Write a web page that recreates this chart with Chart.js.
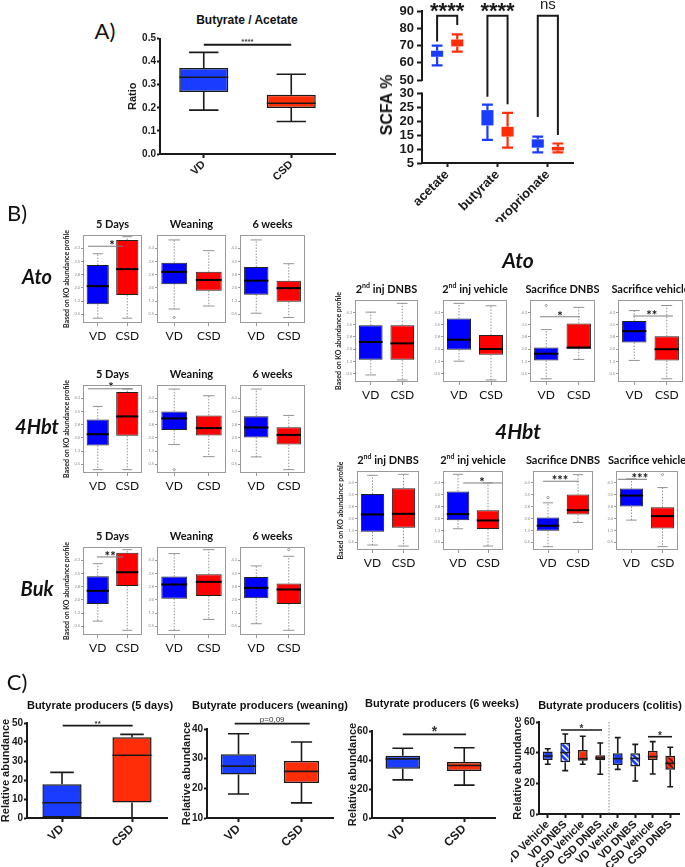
<!DOCTYPE html>
<html>
<head>
<meta charset="utf-8">
<script src="https://cdn.jsdelivr.net/npm/chart.js@4.4.1/dist/chart.umd.min.js"></script>
<style>
  body { margin: 0; background: #fff; }
  #page { position: relative; width: 685px; height: 867px; overflow: hidden; }
  canvas { position: absolute; }
  .lbl { position: absolute; transform: translate(-50%, -50%); white-space: nowrap; color: #111; line-height: 1; }
</style>
</head>
<body>
<div id="page"></div>
<script>
// every box is [min, q1, median, q3, max, (outliers)]
const groups = ['VD', 'CSD'];

// A) Butyrate / Acetate
const ratioVD = [0.19, 0.268, 0.332, 0.372, 0.44];
const ratioCSD = [0.141, 0.199, 0.22, 0.256, 0.345];
const ratioTicks = [0, 0.1, 0.2, 0.3, 0.4, 0.5];

// A) SCFA %
const acids = ['acetate', 'butyrate', 'proprionate'];
const scfaVD = [[58.5, 63.5, 65, 67, 70], [13.3, 18.5, 21, 24, 26], [8.8, 10.5, 11.5, 13.5, 14.5]];
const scfaCSD = [[66.5, 69.5, 71.5, 73.5, 76.5], [10.5, 14.5, 16, 18, 23], [8.8, 9.5, 10, 10.8, 12]];
const scfaTopTicks = [50, 60, 70, 80, 90];
const scfaLowTicks = [5, 10, 15, 20, 25, 30];
const scfaSig = ['****', '****', 'ns'];
const scfaBracketTop = 87.3;
const scfaLegVD = [72.4, 28.8, 21.5];
const scfaLegCSD = [81.9, 26.1, 15.1];

// B) KO abundance profiles (arbitrary units, 0-100 of plot height)
const earlyTimes = ['5 Days', 'Weaning', '6 weeks'];
const lateTimes = ['2nd inj DNBS', '2nd inj vehicle', 'Sacrifice DNBS', 'Sacrifice vehicle'];
const koTicks = [10, 25, 40, 55, 70, 85];

const atoEarlyVD = [[5.4, 21.3, 41.9, 65.9, 78.7], [15.9, 44.1, 58.1, 68.5, 94.4, [6.3]], [11.1, 32.2, 48.1, 63.7, 94.4]];
const atoEarlyCSD = [[5.4, 31.8, 61.2, 94.2, 98.1], [19.3, 36.7, 48.9, 58.1, 82.2], [6.3, 24.1, 39.6, 48.1, 67.4]];
const hbtEarlyVD = [[3.8, 31.2, 44.1, 60.8, 75.7], [32.3, 49.0, 62.0, 70.0, 95.4, [3.8]], [18.3, 40.3, 51.7, 64.6, 95.4]];
const hbtEarlyCSD = [[3.8, 42.2, 64.3, 92.0, 95.4], [18.6, 42.6, 51.0, 65.4, 87.8], [3.8, 32.3, 43.3, 52.1, 65.4]];
const bukEarlyVD = [[15.8, 35.1, 50.2, 66.8, 81.1], [5.3, 41.1, 57.4, 66.4, 92.5], [12.8, 41.9, 53.6, 66.0, 78.5]];
const bukEarlyCSD = [[5.3, 55.8, 71.3, 93.6, 97.0], [17.7, 44.2, 60.4, 69.1, 97.0], [5.3, 35.1, 51.7, 58.5, 89.4, [97]]];

const atoLateVD = [[8.6, 27.0, 48.8, 69.3, 85.2], [25.4, 39.3, 51.6, 77.5, 95.9], [3.9, 26.3, 34.5, 42.0, 63.9, [93.3]], [26.3, 48.2, 62.0, 74.5, 87.1]];
const atoLateCSD = [[2.5, 27.0, 47.1, 69.3, 95.9], [2.5, 33.2, 40.2, 57.4, 93.0], [27.5, 40.4, 42.0, 71.4, 91.0], [3.9, 26.3, 40.0, 55.7, 93.3]];
const hbtLateVD = [[6.3, 23.1, 45.0, 71.0, 94.5], [26.9, 37.8, 45.4, 74.0, 95.8], [4.2, 24.4, 30.7, 41.2, 59.7, [66.4]], [37.8, 55.0, 68.9, 77.7, 90]];
const hbtLateCSD = [[5.0, 28.2, 45.8, 78.2, 95.8], [5.0, 26.5, 37.4, 50.4, 84.9], [34.9, 45.0, 50.4, 70.2, 95.4], [4.2, 27.3, 42.9, 54.2, 79.0, [95.4]]];

// significance: [from, to, height, text, text position]
const atoEarlySig = [[-0.33, 0.86, 87.2, '*', 0.48], null, null];
const hbtEarlySig = [[-0.33, 1.19, 95.8, '*', 0.45], null, null];
const bukEarlySig = [[-0.03, 0.86, 88.7, '**', 0.42], null, null];
const atoLateSig = [null, null, [-0.19, 1.04, 79.6, '*', 0.42], [-0.04, 1.19, 80.4, '**', 0.54]];
const hbtLateSig = [null, [0.17, 1.47, 84.9, '*', 0.8], [-0.17, 1.03, 87, '***', 0.4], [-0.44, 0.5, 89.5, '***', 0.27]];

// C) Butyrate producers, relative abundance
const c5dVD = [0, 0.3, 8, 17.8, 24];
const c5dCSD = [0, 8.2, 33, 42.5, 44];
const cWeanVD = [18.1, 24.7, 27.5, 31.5, 38.4];
const cWeanCSD = [15.1, 21.8, 25.7, 29.2, 35.6];
const c6wVD = [26.3, 33.9, 40.8, 43.0, 48.1];
const c6wCSD = [22.7, 32.5, 36.2, 38.7, 48.5];
const colitisGroups = ['VD Vehicle', 'VD DNBS', 'CSD Vehicle', 'CSD DNBS', 'VD Vehicle', 'VD DNBS', 'CSD Vehicle', 'CSD DNBS'];
const colitisStats = [
  [32.4, 35.2, 37.8, 40.7, 42.6], [28.3, 33.7, 40, 46.5, 52.2], [32.4, 34.8, 36.1, 41.7, 50.7], [25.9, 35.0, 36.5, 38.3, 46.3],
  [29.1, 32.0, 36.1, 39.6, 49.8], [21.5, 30.9, 36.3, 39.6, 45.4], [26.1, 35.2, 37.4, 41.3, 47.2], [17.8, 28.9, 33, 38.0, 43.5]
];

// ---------------------------------------------------------------
const INK = '#1a1a1a';
const BLUE = '#1a3cff', RED = '#ff2e08';
const RBLUE = '#0000ff', RRED = '#ff0000';
const GP = '"Liberation Sans", Arial, sans-serif';
const CAL = 'Lato, "Open Sans", sans-serif';
Chart.defaults.font.family = GP;

const page = document.getElementById('page');

function addCanvas(left, top, w, h) {
  const c = document.createElement('canvas');
  c.width = w; c.height = h;
  c.style.left = left + 'px'; c.style.top = top + 'px';
  page.appendChild(c);
  return c;
}

function addText(html, x, y, css) {
  const d = document.createElement('div');
  d.className = 'lbl';
  d.innerHTML = html;
  d.style.left = x + 'px'; d.style.top = y + 'px';
  Object.assign(d.style, css || {});
  page.appendChild(d);
}

function zeroPad(s) { s.paddingTop = s.paddingBottom = s.paddingLeft = s.paddingRight = 0; }
const quart = arr => arr.map(s => s ? [s[1], s[3]] : null);

function hatch(bg, stripe) {
  const c = document.createElement('canvas');
  c.width = c.height = 6;
  const g = c.getContext('2d');
  g.fillStyle = bg; g.fillRect(0, 0, 6, 6);
  g.strokeStyle = stripe; g.lineWidth = 1.5;
  g.beginPath();
  g.moveTo(0, 0); g.lineTo(6, 6);
  g.moveTo(-3, 3); g.lineTo(3, 9);
  g.moveTo(3, -3); g.lineTo(9, 3);
  g.stroke();
  return g.createPattern(c, 'repeat');
}

// whiskers, caps, medians and outliers on top of the floating bars
function boxPlugin(st) {
  return {
    id: 'boxes',
    afterDatasetsDraw(chart) {
      const ctx = chart.ctx;
      chart.data.datasets.forEach((ds, di) => {
        const meta = chart.getDatasetMeta(di);
        const ys = chart.scales[meta.yAxisID];
        meta.data.forEach((bar, i) => {
          const s = ds.stats[i];
          if (!s) return;
          const p = v => ys.getPixelForValue(v);
          const x = bar.x, half = bar.width / 2, cap = half * st.cap;
          const col = st.whiskerColor || bar.options.backgroundColor;
          ctx.save();
          ctx.strokeStyle = col;
          ctx.lineWidth = st.whiskerWidth;
          ctx.setLineDash(st.dash || []);
          ctx.beginPath();
          ctx.moveTo(x, p(s[3])); ctx.lineTo(x, p(s[4]));
          ctx.moveTo(x, p(s[1])); ctx.lineTo(x, p(s[0]));
          ctx.stroke();
          ctx.setLineDash([]);
          ctx.beginPath();
          ctx.moveTo(x - cap, p(s[4])); ctx.lineTo(x + cap, p(s[4]));
          ctx.moveTo(x - cap, p(s[0])); ctx.lineTo(x + cap, p(s[0]));
          ctx.stroke();
          if (st.medianColor) {
            ctx.strokeStyle = st.medianColor;
            ctx.lineWidth = st.medianWidth;
            ctx.beginPath();
            ctx.moveTo(x - half, p(s[2])); ctx.lineTo(x + half, p(s[2]));
            ctx.stroke();
          }
          (s[5] || []).forEach(v => {
            ctx.strokeStyle = st.whiskerColor; ctx.lineWidth = 0.7;
            ctx.beginPath(); ctx.arc(x, p(v), 1.1, 0, Math.PI * 2); ctx.stroke();
          });
          ctx.restore();
        });
      });
    }
  };
}

// horizontal significance lines
function sigPlugin(items, st) {
  return {
    id: 'sig',
    afterDatasetsDraw(chart) {
      const ctx = chart.ctx, xs = chart.scales.x, ys = chart.scales.y;
      ctx.save();
      items.filter(Boolean).forEach(([x1, x2, y, text, tx]) => {
        const a = xs.getPixelForValue(x1), b = xs.getPixelForValue(x2), py = ys.getPixelForValue(y);
        ctx.strokeStyle = st.line; ctx.lineWidth = st.width;
        ctx.beginPath(); ctx.moveTo(a, py); ctx.lineTo(b, py); ctx.stroke();
        ctx.fillStyle = st.text; ctx.font = st.font;
        ctx.textAlign = 'center'; ctx.textBaseline = 'alphabetic';
        const cx = tx == null ? (a + b) / 2 : xs.getPixelForValue(tx);
        ctx.fillText(text, cx, py - st.gap);
      });
      ctx.restore();
    }
  };
}

const framePlugin = {
  id: 'frame',
  afterDraw(chart) {
    const { left, top, width, height } = chart.chartArea;
    const ctx = chart.ctx;
    ctx.save();
    ctx.strokeStyle = '#9a9a9a'; ctx.lineWidth = 1;
    ctx.strokeRect(left + 0.5, top + 0.5, width - 1, height - 1);
    ctx.restore();
  }
};

const GP_BOX = { whiskerColor: INK, whiskerWidth: 1.6, cap: 0.6, medianColor: INK, medianWidth: 1.6 };
const R_BOX = { whiskerColor: '#777', whiskerWidth: 0.8, dash: [1.5, 1.5], cap: 0.45, medianColor: '#000', medianWidth: 2 };
const R_SIG = { line: '#808080', width: 1.1, text: '#111', font: 'bold 13px ' + CAL, gap: -3.8 };

const baseOpts = pad => ({
  responsive: false, animation: false, events: [],
  layout: { padding: pad },
  plugins: { legend: { display: false }, tooltip: { enabled: false } }
});

function gpX(h, size) {
  return {
    type: 'category', offset: true,
    afterFit: s => { s.height = h; zeroPad(s); },
    border: { color: INK, width: 2 },
    grid: { drawOnChartArea: false, offset: false, tickLength: 4, tickWidth: 2, color: INK },
    ticks: { font: { size, weight: 'bold' }, color: INK, minRotation: 45, maxRotation: 45, autoSkip: false, padding: 0 }
  };
}

function gpY(min, max, ticks, w, title, fmt) {
  return {
    min, max,
    afterBuildTicks: s => { s.ticks = ticks.map(v => ({ value: v })); },
    afterFit: s => { s.width = w; zeroPad(s); },
    border: { color: INK, width: 2 },
    grid: { drawOnChartArea: false, tickLength: 3, tickWidth: 2, color: INK },
    ticks: { font: { size: 10, weight: 'bold' }, color: INK, padding: 1, autoSkip: false, callback: fmt || (v => v) },
    title: { display: true, text: title, font: { size: 11, weight: 'bold' }, color: INK, padding: 0 }
  };
}

function gpChart(o) {
  const cv = addCanvas(o.left, o.top, o.w, o.h);
  return new Chart(cv, {
    type: 'bar',
    data: {
      labels: o.labels,
      datasets: [{
        data: quart(o.stats), stats: o.stats, backgroundColor: o.colors,
        borderColor: INK, borderWidth: 1.5, borderSkipped: false,
        barPercentage: 0.56, categoryPercentage: 1
      }]
    },
    options: Object.assign(baseOpts(o.pad), {
      scales: { x: gpX(o.xH, o.xFont), y: gpY(o.min, o.max, o.ticks, o.yW, o.yTitle, o.fmt) }
    }),
    plugins: [boxPlugin(GP_BOX), sigPlugin(o.sig, o.sigStyle)].concat(o.plugins || [])
  });
}

function rChart(fx1, fx2, fy1, fy2, vd, csd, sig, withTitle) {
  const yW = withTitle ? 20 : 11, xH = 22, pt = 9, pr = 3;
  const left = fx1 - yW, top = fy1 - pt;
  const cv = addCanvas(left, top, fx2 - left + pr, fy2 - top + xH);
  return new Chart(cv, {
    type: 'bar',
    data: {
      labels: groups,
      datasets: [{
        data: quart([vd, csd]), stats: [vd, csd], backgroundColor: [RBLUE, RRED],
        borderColor: '#222', borderWidth: 1, borderSkipped: false,
        barPercentage: 0.75, categoryPercentage: 1
      }]
    },
    options: Object.assign(baseOpts({ top: pt, right: pr }), {
      scales: {
        x: {
          offset: true,
          afterFit: s => { s.height = xH; zeroPad(s); },
          border: { display: false },
          grid: { drawOnChartArea: false, offset: false, tickLength: 3, color: '#999' },
          ticks: { font: { family: CAL, size: 12 }, color: '#111', padding: 3, maxRotation: 0, autoSkip: false }
        },
        y: {
          min: 0, max: 100,
          afterBuildTicks: s => { s.ticks = koTicks.map(v => ({ value: v })); },
          afterFit: s => { s.width = yW; zeroPad(s); },
          border: { display: false },
          grid: { drawOnChartArea: false, tickLength: 2, color: '#999' },
          ticks: { font: { family: CAL, size: 4 }, color: '#888', padding: 1, autoSkip: false, callback: v => (v / 20).toFixed(1) },
          title: { display: withTitle, text: 'Based on KO abundance profile', font: { family: CAL, size: 7, weight: 'bold' }, color: '#222', padding: 0 }
        }
      }
    }),
    plugins: [framePlugin, boxPlugin(R_BOX), sigPlugin(sig ? [sig] : [], R_SIG)]
  });
}

// ---------------- A) Butyrate / Acetate ----------------
gpChart({
  left: 126, top: 30, w: 219, h: 155, yW: 34, xH: 31, pad: { top: 8.5, right: 10 },
  labels: groups, stats: [ratioVD, ratioCSD], colors: [BLUE, RED],
  min: 0, max: 0.5, ticks: ratioTicks, yTitle: 'Ratio', fmt: v => v.toFixed(1), xFont: 11,
  sig: [[0, 1, 0.473, '****']],
  sigStyle: { line: INK, width: 2, text: '#444', font: 'bold 8px ' + GP, gap: 0.5 }
});

// ---------------- A) SCFA % (broken axis) ----------------
const onTop = s => s[2] > 40;
const pick = (arr, top) => arr.map(s => (onTop(s) === top ? s : null));

function scfaY(min, max, ticks) {
  return {
    type: 'linear', position: 'left', stack: 'scfa', stackWeight: 1, min, max,
    afterBuildTicks: s => { s.ticks = ticks.map(v => ({ value: v })); },
    afterFit: s => { s.width = 62; zeroPad(s); },
    border: { display: false },
    grid: { drawOnChartArea: false, tickLength: 5, tickWidth: 2, color: INK },
    ticks: { font: { size: 13, weight: 'bold' }, color: INK, padding: 3, autoSkip: false }
  };
}

const scfaSet = (label, arr, top, color) => ({
  label, yAxisID: top ? 'yTop' : 'y',
  data: quart(pick(arr, top)), stats: pick(arr, top),
  backgroundColor: color, borderWidth: 0,
  barPercentage: 0.6, categoryPercentage: 0.8, skipNull: true
});

const brokenAxis = {
  id: 'brokenAxis',
  afterDraw(chart) {
    const ctx = chart.ctx, x = chart.chartArea.left;
    ctx.save();
    ctx.strokeStyle = INK; ctx.lineWidth = 2;
    [['yTop', scfaTopTicks], ['y', scfaLowTicks]].forEach(([id, t]) => {
      const s = chart.scales[id];
      ctx.beginPath();
      ctx.moveTo(x, s.getPixelForValue(t[0]) + 1);
      ctx.lineTo(x, s.getPixelForValue(t[t.length - 1]) - 1);
      ctx.stroke();
    });
    ctx.restore();
  }
};

const scfaBrackets = {
  id: 'brackets',
  afterDatasetsDraw(chart) {
    const ctx = chart.ctx, xs = chart.scales.x;
    const py = v => chart.scales[v > 40 ? 'yTop' : 'y'].getPixelForValue(v);
    ctx.save();
    ctx.strokeStyle = INK; ctx.fillStyle = INK; ctx.lineWidth = 2;
    ctx.textAlign = 'center';
    scfaSig.forEach((text, i) => {
      const a = xs.getPixelForValue(i - 0.2), b = xs.getPixelForValue(i + 0.2), t = py(scfaBracketTop);
      ctx.beginPath();
      ctx.moveTo(a, py(scfaLegVD[i])); ctx.lineTo(a, t); ctx.lineTo(b, t); ctx.lineTo(b, py(scfaLegCSD[i]));
      ctx.stroke();
      if (text === 'ns') { ctx.font = '15px ' + GP; ctx.fillText(text, (a + b) / 2, t - 7); }
      else { ctx.font = 'bold 22px ' + GP; ctx.fillText(text, (a + b) / 2, t + 2); }
    });
    ctx.restore();
  }
};

new Chart(addCanvas(360, 0, 225, 222), {
  type: 'bar',
  data: {
    labels: acids,
    datasets: [
      scfaSet('VD', scfaVD, true, BLUE), scfaSet('CSD', scfaCSD, true, RED),
      scfaSet('VD', scfaVD, false, BLUE), scfaSet('CSD', scfaCSD, false, RED)
    ]
  },
  options: Object.assign(baseOpts({ top: 11, right: 12 }), {
    scales: {
      x: gpX(59, 13),
      y: scfaY(5, 32.3, scfaLowTicks),
      yTop: scfaY(46, 90, scfaTopTicks)
    }
  }),
  plugins: [boxPlugin({ whiskerColor: null, whiskerWidth: 2.2, cap: 0.9, medianColor: null }), brokenAxis, scfaBrackets]
});

// ---------------- B) left: 5 days / weaning / 6 weeks ----------------
const leftCols = [[83, 142], [157, 226], [240, 305]];
const leftRows = [
  ['Ato', [235, 323], atoEarlyVD, atoEarlyCSD, atoEarlySig],
  ['4Hbt', [385, 473], hbtEarlyVD, hbtEarlyCSD, hbtEarlySig],
  ['Buk', [547, 635], bukEarlyVD, bukEarlyCSD, bukEarlySig]
];
leftRows.forEach(([name, [fy1, fy2], vd, csd, sig]) => {
  leftCols.forEach(([fx1, fx2], c) => {
    rChart(fx1, fx2, fy1, fy2, vd[c], csd[c], sig[c], c === 0);
    addText(earlyTimes[c], (fx1 + fx2) / 2, fy1 - 12, { font: 'bold 11px ' + CAL });
  });
  addText(name, 37, (fy1 + fy2) / 2 - 3, { font: 'italic bold 20px ' + CAL });
});

// ---------------- B) right: colitis time points ----------------
const rightRows = [
  ['Ato', [300, 382], [[355, 418], [443, 507], [530, 595], [618, 683]], atoLateVD, atoLateCSD, atoLateSig],
  ['4Hbt', [471, 550], [[357, 419], [443, 503], [533, 593], [616, 678]], hbtLateVD, hbtLateCSD, hbtLateSig]
];
rightRows.forEach(([name, [fy1, fy2], cols, vd, csd, sig]) => {
  cols.forEach(([fx1, fx2], c) => {
    rChart(fx1, fx2, fy1, fy2, vd[c], csd[c], sig[c], c === 0);
    addText(lateTimes[c].replace(/^2nd/, '2<sup style="font-size:7px">nd</sup>'), (fx1 + fx2) / 2, fy1 - 12, { font: 'bold 11px ' + CAL });
  });
  addText(name, 518, fy1 - 41, { font: 'italic bold 21px ' + CAL });
});

// ---------------- C) butyrate producers ----------------
const C_SIG = { line: INK, width: 1.6, text: '#333', font: 'bold 8px ' + GP, gap: 0 };
gpChart({
  left: -1, top: 715, w: 173, h: 152, yW: 28, xH: 49, pad: { top: 8, right: 5 },
  labels: groups, stats: [c5dVD, c5dCSD], colors: [BLUE, RED],
  min: 0, max: 50, ticks: [0, 10, 20, 30, 40, 50], yTitle: 'Relative abundance', xFont: 12,
  sig: [[0.01, 1.01, 48.6, '**']], sigStyle: C_SIG
});
gpChart({
  left: 180, top: 713, w: 158, h: 154, yW: 27, xH: 49, pad: { top: 16, right: 5 },
  labels: groups, stats: [cWeanVD, cWeanCSD], colors: [BLUE, RED],
  min: 10, max: 40, ticks: [10, 20, 30, 40], yTitle: 'Relative abundance', xFont: 12,
  sig: [[-0.06, 1.13, 41.8, 'p=0,09']], sigStyle: Object.assign({}, C_SIG, { font: '8px ' + GP, gap: 2 })
});
gpChart({
  left: 346, top: 723, w: 154, h: 144, yW: 26, xH: 49, pad: { top: 8, right: 5 },
  labels: groups, stats: [c6wVD, c6wCSD], colors: [BLUE, RED],
  min: 0, max: 60, ticks: [0, 20, 40, 60], yTitle: 'Relative abundance', xFont: 12,
  sig: [[0, 1.03, 57.7, '*']], sigStyle: Object.assign({}, C_SIG, { font: 'bold 14px ' + GP, gap: -2 })
});

const colitisFill = colitisGroups.map(g => {
  const csd = g.startsWith('CSD');
  if (!g.endsWith('DNBS')) return csd ? RED : BLUE;
  return csd ? hatch(RED, '#5a0a00') : hatch(BLUE, '#ffffff');
});
const groupDivider = {
  id: 'divider',
  afterDatasetsDraw(chart) {
    const ctx = chart.ctx, { top, bottom } = chart.chartArea;
    const x = chart.scales.x.getPixelForValue((colitisGroups.length - 1) / 2);
    ctx.save();
    ctx.strokeStyle = '#888'; ctx.lineWidth = 1; ctx.setLineDash([1.5, 1.5]);
    ctx.beginPath(); ctx.moveTo(x, top); ctx.lineTo(x, bottom); ctx.stroke();
    ctx.restore();
  }
};
gpChart({
  left: 511, top: 714, w: 174, h: 153, yW: 28, xH: 53, pad: { top: 8, right: 6 },
  labels: colitisGroups, stats: colitisStats, colors: colitisFill,
  min: 0, max: 60, ticks: [0, 20, 40, 60], yTitle: 'Relative abundance', xFont: 11,
  sig: [[0.76, 3.1, 54.8, '*'], [5.73, 7.1, 50.4, '*']],
  sigStyle: Object.assign({}, C_SIG, { font: 'bold 10px ' + GP, gap: -1.8 }),
  plugins: [groupDivider]
});

// ---------------- titles and panel letters ----------------
const gpTitle = { font: 'bold 11px ' + GP };
addText('Butyrate / Acetate', 247, 20, { font: 'bold 12px ' + GP });
addText('SCFA %', 387, 105, { font: 'bold 16px ' + GP, transform: 'translate(-50%, -50%) rotate(-90deg)' });
addText('Butyrate producers (5 days)', 100, 705, gpTitle);
addText('Butyrate producers (weaning)', 270, 705, gpTitle);
addText('Butyrate producers (6 weeks)', 442, 703, gpTitle);
addText('Butyrate producers (colitis)', 610, 705, gpTitle);
addText('A)', 105, 30, { font: '22px ' + CAL });
addText('B)', 17, 212, { font: '22px ' + CAL });
addText('C)', 17, 681, { font: '22px ' + CAL });
</script>
</body>
</html>
